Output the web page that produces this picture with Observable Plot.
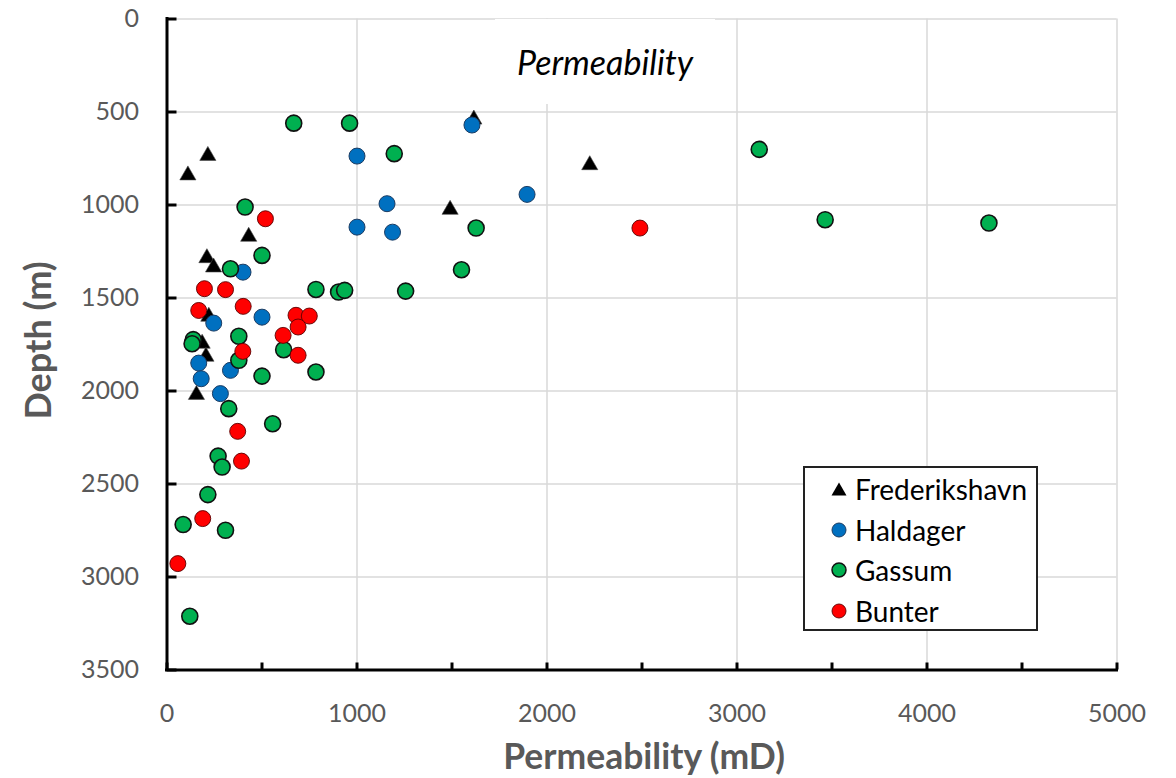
<!DOCTYPE html>
<html>
<head>
<meta charset="utf-8">
<script src="https://cdn.jsdelivr.net/npm/d3@7"></script>
<script src="https://cdn.jsdelivr.net/npm/@observablehq/plot@0.6"></script>
<style>
  html, body { margin: 0; padding: 0; background: #fff; }
  #wrap { position: relative; width: 1176px; height: 778px; font-family: Lato, "Open Sans", sans-serif; }
  #title { position: absolute; left: 495px; top: 19px; width: 220px; height: 85px; background: #fff;
           display: flex; align-items: center; justify-content: center; font-style: italic; font-size: 34px; color: #000; }
  #legend { position: absolute; left: 803px; top: 466px; width: 231px; height: 161px; background: #fff; border: 2px solid #222; }
  .row { position: absolute; left: 0; height: 40px; line-height: 40px; font-size: 28px; color: #000; }
  .row svg { position: absolute; left: 26px; top: 12px; }
  .row span { position: absolute; left: 50px; white-space: nowrap; }
</style>
</head>
<body>
<div id="wrap">
  <div id="chart"></div>
  <div id="title">Permeability</div>
  <div id="legend"></div>
</div>
<script>
// ---- data (permeability mD, depth m) ----
const seriesNames = ["Frederikshavn", "Haldager", "Gassum", "Bunter"];

const frederikshavnPerm  = [1615, 215, 110, 2225, 1490, 430, 210, 245, 220, 185, 205, 155];
const frederikshavnDepth = [540, 735, 840, 785, 1025, 1170, 1285, 1335, 1600, 1745, 1815, 2020];

const haldagerPerm  = [1605, 1000, 1895, 1158, 1000, 1187, 400, 500, 246, 167, 180, 334, 281];
const haldagerDepth = [570, 737, 943, 993, 1119, 1146, 1361, 1603, 1635, 1850, 1934, 1889, 2014];

const gassumPerm  = [667, 961, 1196, 3117, 3464, 4326, 411, 500, 334, 784, 903, 935, 1256, 1550, 1627,
                     378, 138, 132, 614, 378, 500, 784, 325, 556, 269, 290, 215, 85, 308, 120];
const gassumDepth = [560, 560, 724, 701, 1079, 1097, 1011, 1271, 1343, 1454, 1468, 1459, 1463, 1348, 1124,
                     1706, 1724, 1746, 1778, 1835, 1920, 1898, 2095, 2176, 2350, 2409, 2557, 2718, 2749, 3211];

const bunterPerm  = [518, 2489, 197, 308, 167, 401, 679, 749, 690, 611, 690, 399, 372, 392, 188, 57];
const bunterDepth = [1074, 1124, 1450, 1455, 1567, 1545, 1593, 1597, 1656, 1701, 1808, 1787, 2217, 2377, 2686, 2928];

const xTickValues = [0, 1000, 2000, 3000, 4000, 5000];
const xMinorTickValues = [0, 500, 1000, 1500, 2000, 2500, 3000, 3500, 4000, 4500, 5000];
const yTickValues = [0, 500, 1000, 1500, 2000, 2500, 3000, 3500];
const xTitle = "Permeability (mD)";
const yTitle = "Depth (m)";

// ---- build tables ----
const toRows = (perm, depth) => perm.map((p, i) => ({perm: p, depth: depth[i]}));
const fred = toRows(frederikshavnPerm, frederikshavnDepth);
const hald = toRows(haldagerPerm, haldagerDepth);
const gass = toRows(gassumPerm, gassumDepth);
const bunt = toRows(bunterPerm, bunterDepth);

const grey = "#595959";
const gridColor = "#d9d9d9";
const font = "Lato, 'Open Sans', sans-serif";

const chart = Plot.plot({
  width: 1176,
  height: 778,
  marginLeft: 166.5,
  marginRight: 59.5,
  marginTop: 18.5,
  marginBottom: 108.5,
  style: {fontFamily: font, background: "transparent"},
  x: {domain: [0, 5000], label: null},
  y: {domain: [0, 3500], reverse: true, label: null},
  marks: [
    Plot.gridX(xTickValues.filter(v => v > 0), {stroke: gridColor, strokeOpacity: 1, strokeWidth: 1.5}),
    Plot.gridY(yTickValues.filter(v => v < 3500), {stroke: gridColor, strokeOpacity: 1, strokeWidth: 1.5}),
    Plot.axisX(xTickValues, {tickSize: 0, tickPadding: 34, fontSize: 25, fill: grey, label: null, tickFormat: d => String(d)}),
    Plot.axisX(xMinorTickValues, {tickSize: -7, strokeWidth: 3, stroke: "black", tickFormat: () => "", label: null}),
    Plot.axisY(yTickValues, {tickSize: 0, tickPadding: 28, fontSize: 25, fill: grey, label: null, tickFormat: d => String(d)}),
    Plot.axisY(yTickValues, {tickSize: -10, strokeWidth: 3, stroke: "black", tickFormat: () => "", label: null}),
    Plot.ruleX([0], {stroke: "black", strokeWidth: 3, strokeLinecap: "square"}),
    Plot.ruleY([3500], {stroke: "black", strokeWidth: 3, strokeLinecap: "square"}),
    Plot.text([xTitle], {text: d => d, frameAnchor: "bottom", dy: 88, dx: 2, textAnchor: "middle", lineAnchor: "middle",
                         fontSize: 35.5, fontWeight: "bold", fill: grey}),
    Plot.text([yTitle], {text: d => d, frameAnchor: "left", dx: -128, dy: -4, rotate: -90, textAnchor: "middle", lineAnchor: "middle",
                         fontSize: 36, fontWeight: "bold", fill: grey}),
    Plot.dot(fred, {x: "perm", y: "depth", symbol: "triangle", r: 6, fill: "#000", stroke: "#444", strokeWidth: 0.6}),
    Plot.dot(hald, {x: "perm", y: "depth", r: 8, fill: "#0070C0", stroke: "#1b3c63", strokeWidth: 1}),
    Plot.dot(gass, {x: "perm", y: "depth", r: 8, fill: "#00B050", stroke: "#111", strokeWidth: 1.6}),
    Plot.dot(bunt, {x: "perm", y: "depth", r: 8, fill: "#FF0000", stroke: "#5a0000", strokeWidth: 0.9})
  ]
});
document.getElementById("chart").appendChild(chart);

// ---- legend ----
const legendStyles = [
  {symbol: "tri", fill: "#000", stroke: "#000", sw: 0},
  {symbol: "circle", fill: "#0070C0", stroke: "#1b3c63", sw: 1},
  {symbol: "circle", fill: "#00B050", stroke: "#111", sw: 1.5},
  {symbol: "circle", fill: "#FF0000", stroke: "#5a0000", sw: 0.9}
];
const legend = document.getElementById("legend");
seriesNames.forEach((name, i) => {
  const row = document.createElement("div");
  row.className = "row";
  row.style.top = (1 + i * 40.7) + "px";
  const st = legendStyles[i];
  const shape = st.symbol === "tri"
    ? `<polygon points="8,1.5 15.5,14.5 0.5,14.5" fill="${st.fill}"/>`
    : `<circle cx="8" cy="8" r="7" fill="${st.fill}" stroke="${st.stroke}" stroke-width="${st.sw}"/>`;
  row.innerHTML = `<svg width="16" height="16" viewBox="0 0 16 16">${shape}</svg><span>${name}</span>`;
  legend.appendChild(row);
});
</script>
</body>
</html>
